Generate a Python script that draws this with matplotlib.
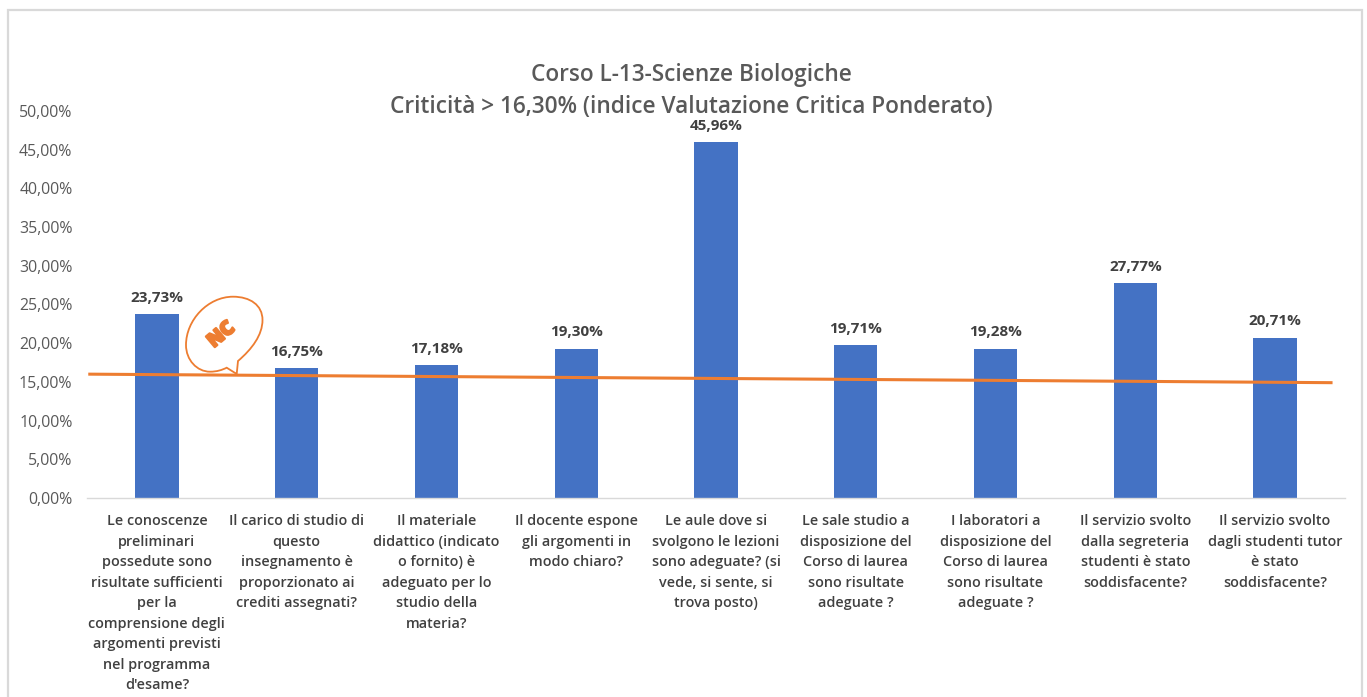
import matplotlib
matplotlib.use("Agg")
import matplotlib.pyplot as plt
import matplotlib.patheffects as pe
from matplotlib.patches import Rectangle, PathPatch
from matplotlib.path import Path

# ===============================
# DATA
# ===============================
questions = [
    "Le conoscenze\npreliminari\npossedute sono\nrisultate sufficienti\nper la\ncomprensione degli\nargomenti previsti\nnel programma\nd'esame?",
    "Il carico di studio di\nquesto\ninsegnamento è\nproporzionato ai\ncrediti assegnati?",
    "Il materiale\ndidattico (indicato\no fornito) è\nadeguato per lo\nstudio della\nmateria?",
    "Il docente espone\ngli argomenti in\nmodo chiaro?",
    "Le aule dove si\nsvolgono le lezioni\nsono adeguate? (si\nvede, si sente, si\ntrova posto)",
    "Le sale studio a\ndisposizione del\nCorso di laurea\nsono risultate\nadeguate ?",
    "I laboratori a\ndisposizione del\nCorso di laurea\nsono risultate\nadeguate ?",
    "Il servizio svolto\ndalla segreteria\nstudenti è stato\nsoddisfacente?",
    "Il servizio svolto\ndagli studenti tutor\nè stato\nsoddisfacente?",
]
values = [23.73, 16.75, 17.18, 19.30, 45.96, 19.71, 19.28, 27.77, 20.71]
threshold_x = [-0.48, 8.4]
threshold_y = [16.0, 14.9]
y_ticks = [0, 5, 10, 15, 20, 25, 30, 35, 40, 45, 50]

TITLE = "Corso L-13-Scienze Biologiche\nCriticità > 16,30% (indice Valutazione Critica Ponderato)"
W, H = 1367, 697
BLUE = "#4472C4"
ORANGE = "#ED7D31"
GREY = "#595959"
DARK = "#404040"

plt.rcParams["font.family"] = ["Open Sans", "DejaVu Sans"]


def it_pct(v):
    return f"{v:.2f}".replace(".", ",") + "%"


# ===============================
# PLOT
# ===============================
fig = plt.figure(figsize=(W / 100, H / 100), dpi=100)
ax = fig.add_axes([87 / W, 1 - 498 / H, (1345 - 87) / W, (498 - 111) / H])

# outer chart frame, cut by the bottom of the screenshot
fig.add_artist(Rectangle((8 / W, -0.05), (1362 - 8) / W, 1.05 - 10 / H, transform=fig.transFigure,
                         fill=False, ec="#D9D9D9", lw=1.6))

x = list(range(len(values)))
ax.bar(x, values, width=0.31, color=BLUE, zorder=2)
ax.plot(threshold_x, threshold_y, color=ORANGE, lw=2.2, zorder=3)

for i, v in enumerate(values):
    ax.annotate(it_pct(v), (i, v), xytext=(0, 6.7), textcoords="offset points", ha="center", va="bottom",
                fontsize=11, fontweight="bold", color=DARK, zorder=4)

ax.set_xlim(-0.5, 8.5)
ax.set_ylim(0, 50)
ax.set_yticks(y_ticks)
ax.set_yticklabels([it_pct(t) for t in y_ticks], fontsize=11.4, color=GREY)
ax.set_xticks(x)
ax.set_xticklabels(questions, fontsize=10.4, fontweight="semibold", color=DARK, linespacing=1.59,
                   ha="center", va="top")
ax.tick_params(axis="both", length=0)
ax.tick_params(axis="x", pad=11.6)
ax.tick_params(axis="y", pad=10.5)
for side in ["top", "right", "left"]:
    ax.spines[side].set_visible(False)
ax.spines["bottom"].set_color("#D9D9D9")
ax.spines["bottom"].set_linewidth(1.0)
ax.patch.set_alpha(0)

fig.text(691 / W, 1 - 91 / H, TITLE, ha="center", va="center", fontsize=16.3, fontweight="semibold",
         color=GREY, linespacing=1.4)


# speech bubble logo, outline taken in screen pixels
def px(a, b):
    return (a / W, 1 - b / H)


verts = [px(236.7, 374), px(238, 361),
         px(252, 349), px(262.5, 335), px(262.5, 320),
         px(262.5, 305), px(250, 296.7), px(233, 296.7),
         px(208, 296.7), px(186, 320), px(186, 345),
         px(186, 360), px(197, 371.7), px(210, 371.7),
         px(217, 371.7), px(222, 370), px(226.7, 367.7),
         px(236.7, 374)]
codes = [Path.MOVETO, Path.LINETO] + [Path.CURVE4] * 15 + [Path.LINETO]
fig.add_artist(PathPatch(Path(verts, codes), transform=fig.transFigure, fill=False, ec=ORANGE, lw=1.3))
fig.text(221.5 / W, 1 - 335 / H, "NC", rotation=40, ha="center", va="center", fontsize=14, fontweight="black",
         color=ORANGE, path_effects=[pe.withStroke(linewidth=1.6, foreground=ORANGE)])

fig.savefig("out.png", dpi=100)
